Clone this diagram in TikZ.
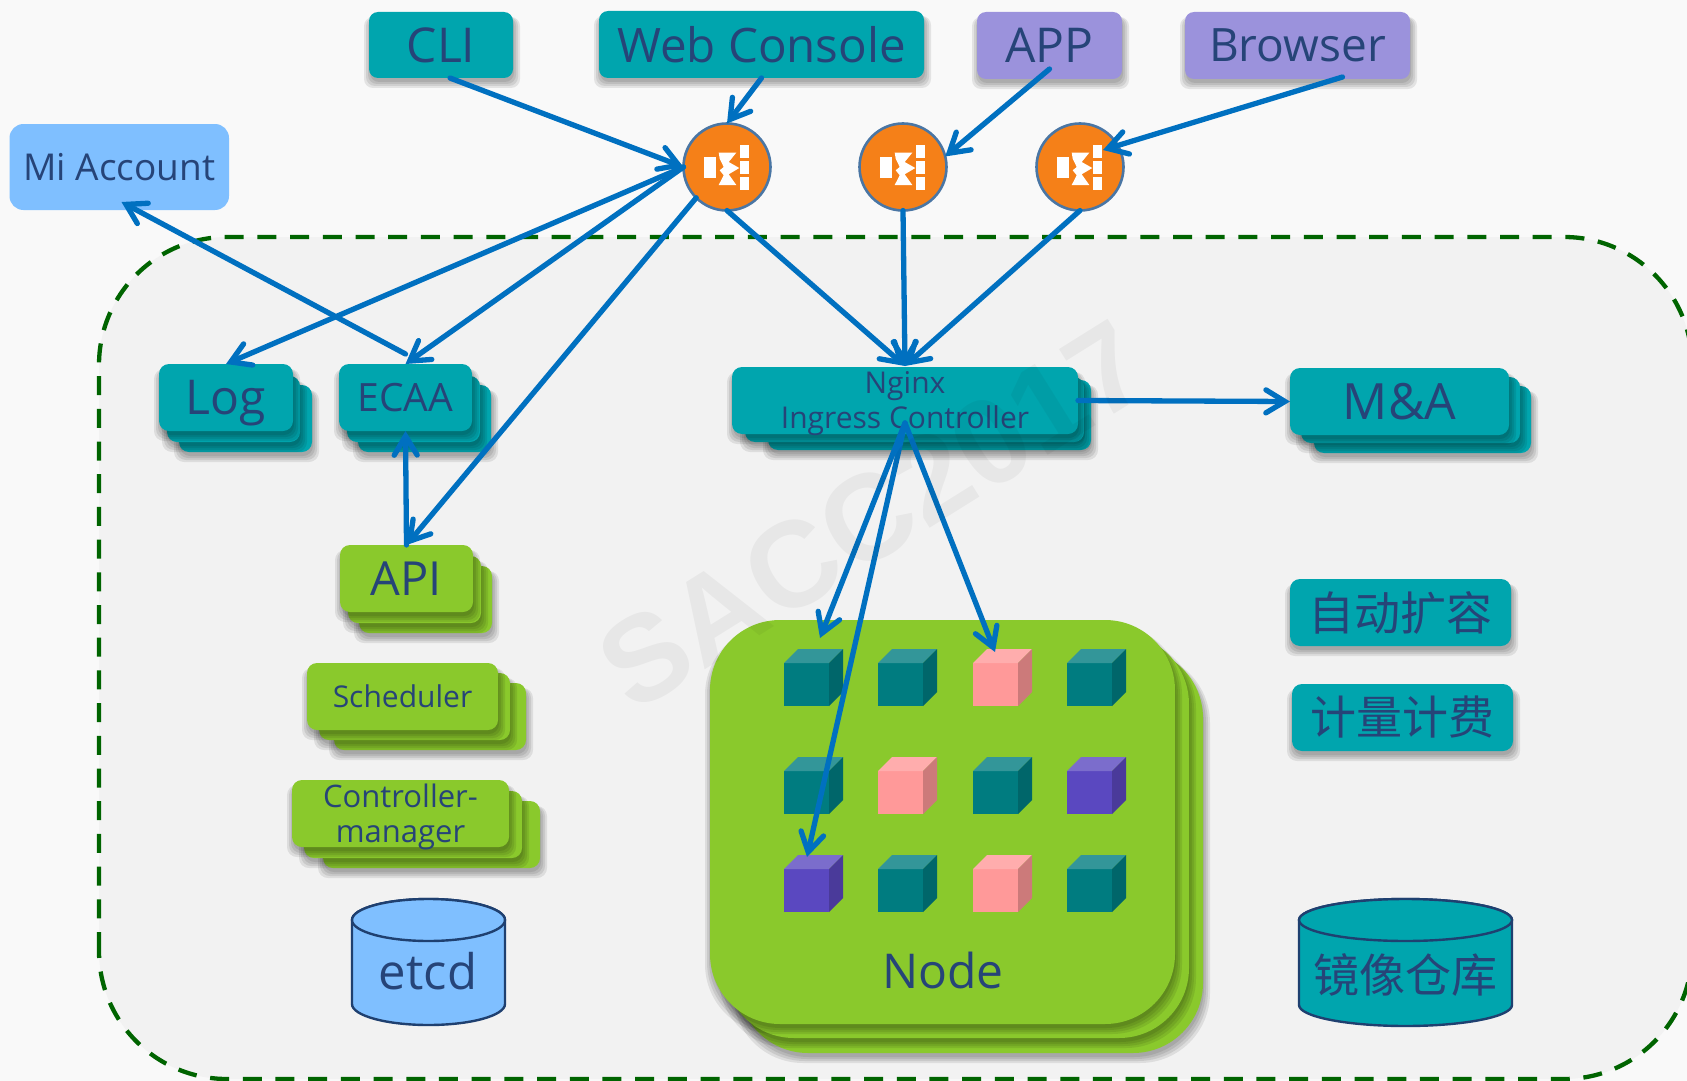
\documentclass[tikz,border=0pt]{standalone}
\usepackage{fontspec}
\setmainfont{Open Sans}
\newfontfamily\cjkf{Noto Sans CJK SC}
\newfontfamily\wmf{Liberation Sans}
\usetikzlibrary{arrows.meta,calc}
\definecolor{pagec}{HTML}{F9F9F9}
\definecolor{innerc}{HTML}{F2F2F2}
\definecolor{txtc}{HTML}{264478}
\definecolor{tealb}{HTML}{00A5AE}
\definecolor{greenb}{HTML}{8AC92C}
\definecolor{skyb}{HTML}{7FBFFF}
\definecolor{purpb}{HTML}{9B92DC}
\definecolor{orngc}{HTML}{F58018}
\definecolor{ringc}{HTML}{4A76A4}
\definecolor{arrc}{HTML}{0070C0}
\definecolor{dashc}{HTML}{006400}
\definecolor{cylline}{HTML}{1F4070}
\definecolor{cT}{HTML}{007C80}\definecolor{sT}{HTML}{00666A}\definecolor{tT}{HTML}{339699}
\definecolor{cP}{HTML}{FF9999}\definecolor{sP}{HTML}{CC7A7A}\definecolor{tP}{HTML}{FFADAD}
\definecolor{cU}{HTML}{5A48C0}\definecolor{sU}{HTML}{4A3A9A}\definecolor{tU}{HTML}{7B6DCC}
\newcommand\fsz[1]{\fontsize{#1}{#1}\selectfont}
\newcommand\nodepth[1]{\raisebox{0pt}[\height][0pt]{#1}}
% soft shadow then filled box: x1 y1 x2 y2 radius colour
\newcommand\softbox[6]{%
  \foreach \dd in {7,5,3,1}{%
    \fill[black,opacity=.085,rounded corners=#5 pt] (#1-\dd+2,#2+5) rectangle (#3+\dd,#4+\dd+3);}
  \fill[#6,rounded corners=#5 pt] (#1,#2) rectangle (#3,#4);}
% front box as a named node: name x1 y1 x2 y2 radius colour fontsize text
\newcommand\frontbox[9]{%
  \softbox{#2}{#3}{#4}{#5}{#6}{#7}
  \node[lab,font=\fsz{#8},minimum width=#4-#2,minimum height=#5-#3] (#1) at ({(#2+#4)/2},{(#3+#5)/2}) {#9};}
\newcommand\cube[3]{% x y kind
  \fill[c#3] (#1,#2+14) rectangle (#1+45,#2+57);
  \fill[t#3] (#1,#2+14) -- (#1+14,#2) -- (#1+59,#2) -- (#1+45,#2+14) -- cycle;
  \fill[s#3] (#1+45,#2+14) -- (#1+59,#2) -- (#1+59,#2+43) -- (#1+45,#2+57) -- cycle;}
\tikzset{
  lab/.style={text=txtc,align=center,inner sep=0pt,outer sep=0pt},
  flow/.style={draw=arrc,line width=5.3pt,line cap=round,-{Straight Barb[length=19pt,width=23pt,line cap=round]}},
  hub/.style={circle,fill=orngc,draw=ringc,line width=2.6pt,minimum size=87pt,inner sep=0pt,outer sep=0pt},
  hubicon/.pic={
    \fill[white] (-22.7,-10) rectangle (-10.7,11);
    \fill[white] (13.3,-21.7) rectangle (22.3,-9.3);
    \fill[white] (13.3,-5.7) rectangle (22.3,7.3);
    \fill[white] (13.3,10.3) rectangle (22.3,23.3);
    \fill[white] (-8.3,-14.3) -- (9.3,-14.3) -- (1.7,-5) -- (12.3,1) -- (1.7,7.3) -- (9.3,18) -- (-8.3,18) -- (-3.3,8.3) -- (-7.3,3.3) -- (-3.3,0) -- (-7.3,-8.3) -- cycle;
  },
}
\begin{document}
\begin{tikzpicture}[x=1pt,y=-1pt]
\useasboundingbox (0,0) rectangle (1687,1081);
\fill[pagec] (0,0) rectangle (1687,1081);
\fill[innerc,rounded corners=128pt] (99,1079) -- (99,237) -- (1692,237) -- (1692,1079) -- cycle;
\draw[dashc,line width=4.3pt,dash pattern=on 19pt off 13.7pt,rounded corners=128pt] (99,1079) -- (99,237) -- (1692,237) -- (1692,1079) -- cycle;

% top row
\frontbox{cli}{369}{12}{513}{78}{9}{tealb}{48}{CLI}
\frontbox{web}{599}{11}{924}{78}{9}{tealb}{47.5}{Web Console}
\frontbox{app}{977}{12}{1122}{79}{9}{purpb}{48}{APP}
\frontbox{brw}{1185}{12}{1410}{79}{9}{purpb}{46}{Browser}
\fill[skyb,rounded corners=14pt] (9.5,124) rectangle (229,210);
\node[lab,font=\fsz{37},minimum width=219,minimum height=86] (mi) at (119.5,167) {Mi Account};

% hubs
\foreach \nm/\cx in {c1/727,c2/903,c3/1080}{
  \node[hub] (\nm) at (\cx,167) {};
  \pic at (\cx,167) {hubicon};
}

% Log
\softbox{179}{385}{312}{452}{10}{tealb}
\softbox{167}{376}{300}{442}{10}{tealb}
\frontbox{log}{159}{364}{293}{431}{10}{tealb}{48}{\nodepth{Log}}
% ECAA
\softbox{358}{385}{491}{452}{10}{tealb}
\softbox{347}{376}{480}{442}{10}{tealb}
\frontbox{ecaa}{339}{364}{472}{431}{10}{tealb}{39}{ECAA}
% API
\softbox{359}{566}{492}{633}{10}{greenb}
\softbox{348}{556}{481}{623}{10}{greenb}
\frontbox{api}{340}{545}{473}{612}{10}{greenb}{47}{API}
% Scheduler
\softbox{334}{683}{526}{750}{10}{greenb}
\softbox{319}{673}{510}{740}{10}{greenb}
\frontbox{sch}{307}{663}{498}{730}{10}{greenb}{30}{Scheduler}
% Controller-manager
\softbox{323}{801}{540}{868}{10}{greenb}
\softbox{304}{791}{522}{858}{10}{greenb}
\softbox{292}{780}{509}{847}{10}{greenb}
\node[lab,font=\fontsize{31}{35}\selectfont] (ctl) at (400.5,816.5) {Controller-\\manager};
% Nginx
\softbox{768}{380}{1091}{450}{10}{tealb}
\softbox{745}{377}{1084}{442}{10}{tealb}
\softbox{732}{367}{1078}{434}{10}{tealb}
\node[lab,font=\fontsize{30}{35}\selectfont] (ngx) at (905,403.5) {Nginx\\Ingress Controller};
% M&A
\softbox{1314}{386}{1531}{453}{10}{tealb}
\softbox{1301}{377}{1520}{443}{10}{tealb}
\frontbox{ma}{1290}{368}{1509}{435}{10}{tealb}{50}{M\&A}
% right boxes
\frontbox{auto}{1290}{579}{1511}{646}{10}{tealb}{46}{\cjkf 自动扩容}
\frontbox{bill}{1292}{684}{1513}{751}{10}{tealb}{46}{\cjkf 计量计费}

% Node stack
\softbox{738}{648}{1203}{1053}{70}{greenb}
\softbox{724}{634}{1189}{1038}{70}{greenb}
\softbox{710}{620}{1175}{1024}{70}{greenb}
\node[lab,font=\fsz{48}] (nd) at (943,970) {Node};
% cubes
\cube{784}{649}{T}\cube{878}{649}{T}\cube{973}{649}{P}\cube{1067}{649}{T}
\cube{784}{757}{T}\cube{878}{757}{P}\cube{973}{757}{T}\cube{1067}{757}{U}
\cube{784}{855}{U}\cube{878}{855}{T}\cube{973}{855}{P}\cube{1067}{855}{T}
\coordinate (cubeA) at (820,638);
\coordinate (cubeB) at (807,857);
\coordinate (cubeC) at (995,652);

% cylinders
\draw[cylline,line width=2.4pt,fill=skyb] (352,920) arc[x radius=76.5,y radius=21,start angle=180,end angle=360] -- (505,1004) arc[x radius=76.5,y radius=21,start angle=0,end angle=180] -- cycle;
\draw[cylline,line width=2.4pt,fill=skyb] (428.5,920) ellipse[x radius=76.5,y radius=21];
\node[lab,font=\fsz{49}] (etcd) at (428,971) {etcd};
\draw[cylline,line width=2.4pt,fill=tealb] (1299,920) arc[x radius=106.5,y radius=21,start angle=180,end angle=360] -- (1512,1005) arc[x radius=106.5,y radius=21,start angle=0,end angle=180] -- cycle;
\draw[cylline,line width=2.4pt,fill=tealb] (1405.5,920) ellipse[x radius=106.5,y radius=21];
\node[lab,font=\fsz{46}] (repo) at (1405,975) {\cjkf 镜像仓库};

% connectors
\draw[flow] ([xshift=9pt]cli.south) -- (c1.west);
\draw[flow] (web.south) -- (c1.north);
\draw[flow] ([yshift=10pt]app.south) -- (c2.14);
\draw[flow] ([xshift=45pt,yshift=2pt]brw.south) -- ([xshift=23pt,yshift=17pt]c3.center);
\draw[flow] (c1.west) -- (log.north);
\draw[flow] (c1.west) -- (ecaa.north);
\draw[flow] (c1.225) -- (api.north);
\draw[flow] ([yshift=10pt]ecaa.north) -- ([xshift=2pt,yshift=8pt]mi.south);
\draw[flow] (api.north) -- (ecaa.south);
\draw[flow] (c1.south) -- ([yshift=37.5pt]ngx.center);
\draw[flow] (c2.south) -- ([yshift=37.5pt]ngx.center);
\draw[flow] (c3.south) -- ([yshift=37.5pt]ngx.center);
\draw[flow] ([xshift=173pt,yshift=3pt]ngx.center) -- (ma.west);
\draw[flow] ([yshift=-19.5pt]ngx.center) -- (cubeA);
\draw[flow] ([yshift=-19.5pt]ngx.center) -- (cubeB);
\draw[flow] ([yshift=-19.5pt]ngx.center) -- (cubeC);

% watermark
\node[text=black,text opacity=.045,font=\wmf\bfseries\fsz{122},rotate=32,inner sep=0pt] (wm) at (873,515) {SACC2017};
\end{tikzpicture}
\end{document}
